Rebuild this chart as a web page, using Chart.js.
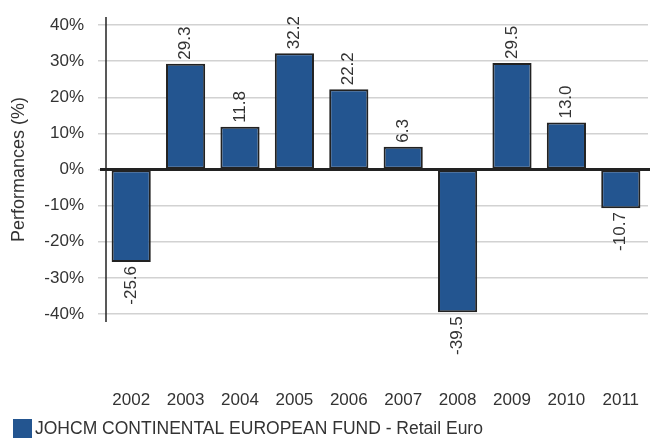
<!DOCTYPE html>
<html>
<head>
<meta charset="utf-8">
<script src="https://cdn.jsdelivr.net/npm/chart.js@4"></script>
<style>
  html, body { margin: 0; padding: 0; background: #fff; overflow: hidden; }
  #wrap { width: 650px; height: 439px; position: relative; }
</style>
</head>
<body>
<div id="wrap"><canvas id="perf"></canvas></div>
<script>
// Calendar-year performances.
const years = ["2002", "2003", "2004", "2005", "2006", "2007", "2008", "2009", "2010", "2011"];
const performances = [-25.6, 29.3, 11.8, 32.2, 22.2, 6.3, -39.5, 29.5, 13.0, -10.7];
const seriesName = "JOHCM CONTINENTAL EUROPEAN FUND - Retail Euro";
const yTicks = [-40, -30, -20, -10, 0, 10, 20, 30, 40];

const barColor = "#235590";
const textColor = "#333333";
const font = "Liberation Sans, Arial, sans-serif";

// Rotated value labels, zero line, left axis line and the legend row.
const decorations = {
    id: "decorations",
    afterDatasetsDraw(chart) {
        const ctx = chart.ctx;
        const y = chart.scales.y;
        const area = chart.chartArea;
        const zeroY = y.getPixelForValue(0);

        ctx.save();
        ctx.strokeStyle = "#222";
        ctx.lineWidth = 1.5;
        ctx.beginPath();
        ctx.moveTo(area.left + 2, area.top - 8);
        ctx.lineTo(area.left + 2, area.bottom + 8);
        ctx.stroke();

        ctx.lineWidth = 3;
        ctx.beginPath();
        ctx.moveTo(area.left - 4, zeroY);
        ctx.lineTo(chart.width, zeroY);
        ctx.stroke();

        ctx.fillStyle = textColor;
        ctx.font = "17px " + font;
        ctx.textBaseline = "middle";
        chart.getDatasetMeta(0).data.forEach((bar, i) => {
            const v = performances[i];
            ctx.save();
            ctx.translate(bar.x, bar.y);
            ctx.rotate(-Math.PI / 2);
            if (v >= 0) {
                ctx.textAlign = "left";
                ctx.fillText(v.toFixed(1), 4, 0);
            } else {
                ctx.textAlign = "right";
                ctx.fillText(v.toFixed(1), -4, 0);
            }
            ctx.restore();
        });

        // legend: one swatch + series name, bottom-left
        ctx.fillStyle = barColor;
        ctx.fillRect(13, 419, 19, 19);
        ctx.fillStyle = textColor;
        ctx.font = "17.5px " + font;
        ctx.textAlign = "left";
        ctx.fillText(seriesName, 35, 429);
        ctx.restore();
    }
};

new Chart(document.getElementById("perf"), {
    type: "bar",
    data: {
        labels: years,
        datasets: [{
            label: seriesName,
            data: performances,
            backgroundColor: barColor,
            borderColor: "#222",
            borderWidth: 2,
            borderSkipped: false,
            barPercentage: 0.72,
            categoryPercentage: 1.0,
        }],
    },
    options: {
        responsive: true,
        maintainAspectRatio: false,
        animation: false,
        layout: { padding: { top: 25, right: 2, left: 0, bottom: 24 } },
        plugins: {
            legend: { display: false },
            tooltip: { enabled: false },
        },
        scales: {
            x: {
                grid: { display: false, drawTicks: false },
                border: { display: false },
                ticks: { color: textColor, font: { size: 17, family: font }, padding: 76 },
                afterFit: (s) => {
                    s.height = 101;
                    s.paddingLeft = 0;
                    s.paddingRight = 0;
                },
            },
            y: {
                min: -40,
                max: 40,
                afterBuildTicks: (s) => { s.ticks = yTicks.map(v => ({ value: v })); },
                grid: { color: "#d2d2d2", lineWidth: 1.5, tickLength: 6, tickColor: "#d2d2d2" },
                border: { display: false },
                ticks: {
                    color: textColor,
                    font: { size: 17, family: font },
                    padding: 14,
                    callback: (v) => v + "%",
                },
                title: {
                    display: true,
                    text: "Performances (%)",
                    color: textColor,
                    font: { size: 18, family: font },
                    padding: { top: 8, bottom: 0 },
                },
                afterFit: (s) => { s.width = 104; },
            },
        },
    },
    plugins: [decorations],
});
</script>
</body>
</html>
